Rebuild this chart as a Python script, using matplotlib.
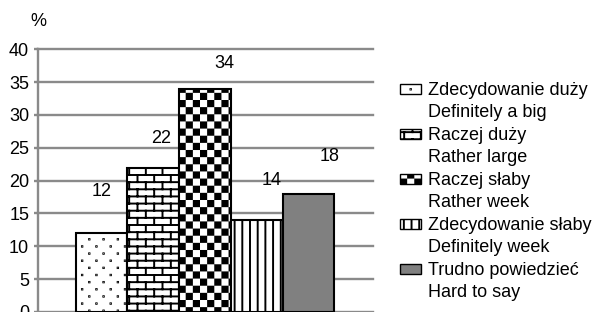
import warnings
import numpy as np
import matplotlib
matplotlib.use('Agg')
import matplotlib.pyplot as plt
import matplotlib.hatch as mhatch
from matplotlib.path import Path
from matplotlib.patches import Rectangle

warnings.filterwarnings('ignore')

# data
names_pl = ['Zdecydowanie duży', 'Raczej duży', 'Raczej słaby',
            'Zdecydowanie słaby', 'Trudno powiedzieć']
names_en = ['Definitely a big', 'Rather large', 'Rather week',
            'Definitely week', 'Hard to say']
values = [12, 22, 34, 14, 18]
yticks = [0, 5, 10, 15, 20, 25, 30, 35, 40]

# manual label placement (offset from bar centre / top, data units)
label_dx = [0.0, 0.15, 0.37, 0.29, 0.40]
label_dy = [5.7, 3.7, 3.1, 5.3, 5.0]

# styles
hatches = ['d', 'b', 'k', 'v', None]
faces = ['white', 'white', 'white', 'white', '#808080']
GRID = '#8a8a8a'
FS = 13

plt.rcParams['font.family'] = ['Liberation Sans', 'DejaVu Sans']
plt.rcParams['hatch.linewidth'] = 1.4
plt.rcParams['hatch.color'] = 'black'


# ----------------------------------------------------------------------------
# extra hatch patterns (bricks, checkerboard, vertical lines, dots)

def _segments(segs):
    verts, codes = [], []
    for a, b in segs:
        verts += [a, b]
        codes += [Path.MOVETO, Path.LINETO]
    return verts, codes


def _squares(sq):
    verts, codes = [], []
    for x0, y0, x1, y1 in sq:
        verts += [(x0, y0), (x1, y0), (x1, y1), (x0, y1), (x0, y0)]
        codes += [Path.MOVETO, Path.LINETO, Path.LINETO, Path.LINETO, Path.CLOSEPOLY]
    return verts, codes


def bricks(rows=14, cols=6):
    segs = []
    h = 1 / rows
    ys = [(r + 0.5) * h for r in range(rows)]
    for r, y in enumerate(ys):
        segs.append(((0, y), (1, y)))
        top = ys[r + 1] if r + 1 < rows else 1.0
        shift = 0.25 if r % 2 == 0 else 0.75
        for c in range(cols):
            x = (c + shift) / cols
            segs.append(((x, y), (x, top)))
            if r == rows - 1:
                segs.append(((x, 0), (x, ys[0])))
    return _segments(segs)


def checker(n=14, inset=0.0095):
    s = 1 / n
    sq = [(i * s + inset, j * s + inset, (i + 1) * s - inset, (j + 1) * s - inset)
          for i in range(n) for j in range(n) if (i + j) % 2 == 0]
    return _squares(sq)


def vlines(n=13):
    return _segments([(((i + 0.5) / n, 0), ((i + 0.5) / n, 1)) for i in range(n)])


def dots(rows=14, cols=7, d=0.002):
    sq = []
    for r in range(rows):
        y = (r + 0.5) / rows
        for c in range(cols):
            x = (c + 0.25 + 0.5 * (r % 2)) / cols
            sq.append((x - d, y - d, x + d, y + d))
    return _squares(sq)


PATTERNS = {'b': bricks(), 'k': checker(), 'v': vlines(), 'd': dots()}


class CustomHatch(mhatch.HatchPatternBase):
    def __init__(self, hatch, density):
        self.verts, self.vcodes = [], []
        for ch, (v, c) in PATTERNS.items():
            if ch in hatch:
                self.verts += v
                self.vcodes += c
        self.num_vertices = len(self.verts)

    def set_vertices_and_codes(self, vertices, codes):
        vertices[:] = np.array(self.verts)
        codes[:] = np.array(self.vcodes)


mhatch._hatch_types.append(CustomHatch)

# ----------------------------------------------------------------------------

W, H = 599, 312
fig = plt.figure(figsize=(W / 100, H / 100), dpi=100)
fig.patch.set_facecolor('white')
ax = fig.add_axes([37.5 / W, 0, (373 - 37.5) / W, 262.7 / H])

x = np.arange(len(values))
ax.bar(x, values, width=1.0, color=faces, edgecolor='black',
       linewidth=1.5, hatch=hatches, zorder=3)

for i, v in enumerate(values):
    ax.text(i + label_dx[i], v + label_dy[i], str(v), ha='center',
            va='baseline', fontsize=FS, color='black')

ax.set_xlim(-1.237, 5.246)
ax.set_ylim(0, 40)
ax.set_yticks(yticks)
ax.set_yticklabels([str(t) for t in yticks], fontsize=FS)
ax.set_xticks([])

ax.grid(axis='y', color=GRID, linewidth=1.7, clip_on=False, zorder=1)
ax.set_axisbelow(True)
for s in ['top', 'right', 'bottom']:
    ax.spines[s].set_visible(False)
ax.spines['left'].set_color(GRID)
ax.spines['left'].set_linewidth(1.7)
ax.tick_params(axis='y', colors=GRID, length=3, width=1.7, pad=3,
               labelcolor='black')

fig.text(38.5 / W, 1 - 26 / H, '%', ha='center', va='baseline', fontsize=FS)

# legend drawn by hand: handle next to first line, two-line labels
for i in range(len(values)):
    top = 84 + 45 * i
    rect = Rectangle((400 / W, 1 - (top + 10) / H), 21 / W, 10 / H,
                     transform=fig.transFigure, facecolor=faces[i],
                     edgecolor='black', linewidth=1.0, hatch=hatches[i])
    fig.add_artist(rect)
    fig.text(428 / W, 1 - (95 + 45 * i) / H, names_pl[i], ha='left',
             va='baseline', fontsize=FS)
    fig.text(428 / W, 1 - (117 + 45 * i) / H, names_en[i], ha='left',
             va='baseline', fontsize=FS)

fig.savefig('out.png', dpi=100)
